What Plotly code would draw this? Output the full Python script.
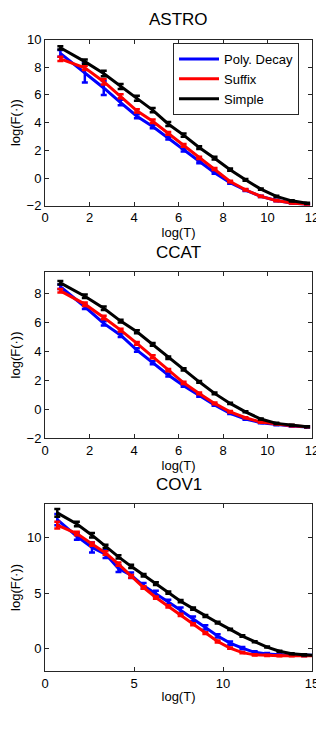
import plotly.graph_objects as go

# log(T) positions of the samples
x_ab = [0.69, 1.79, 2.64, 3.40, 4.13, 4.84, 5.54, 6.23, 6.93, 7.62, 8.32, 9.01, 9.70, 10.40, 11.09, 11.78]
x_cov = [0.69, 1.79, 2.64, 3.40, 4.13, 4.84, 5.54, 6.23, 6.93, 7.62, 8.32, 9.01, 9.70, 10.40, 11.09,
         11.78, 12.48, 13.17, 13.86, 14.56, 15.25]

# ASTRO
astro_poly = [9.0, 7.6, 6.5, 5.45, 4.46, 3.72, 2.88, 2.02, 1.17, 0.38, -0.33, -0.88, -1.33, -1.62, -1.8, -1.9]
astro_suffix = [8.6, 7.95, 6.95, 5.9, 4.85, 4.1, 3.22, 2.35, 1.45, 0.65, -0.25, -0.85, -1.33, -1.63, -1.8, -1.9]
astro_simple = [9.4, 8.4, 7.55, 6.6, 5.75, 4.9, 3.9, 3.1, 2.2, 1.43, 0.6, -0.13, -0.8, -1.33, -1.65, -1.82]
astro_poly_err = [0.25, 0.7, 0.5, 0.2, 0.15, 0.12, 0.1, 0.1, 0.1, 0.08, 0.08, 0.06, 0.05, 0.05, 0.04, 0.04]
astro_suffix_err = [0.15, 0.15, 0.2, 0.15, 0.12, 0.12, 0.1, 0.1, 0.08, 0.08, 0.06, 0.05, 0.05, 0.04, 0.04, 0.04]
astro_simple_err = [0.12, 0.15, 0.2, 0.18, 0.18, 0.15, 0.15, 0.12, 0.1, 0.1, 0.08, 0.06, 0.05, 0.04, 0.04, 0.04]

# CCAT
ccat_poly = [8.46, 7.08, 5.93, 5.12, 4.09, 3.21, 2.37, 1.63, 0.94, 0.3, -0.28, -0.67, -0.92, -1.06, -1.15, -1.22]
ccat_suffix = [8.18, 7.26, 6.34, 5.47, 4.55, 3.63, 2.71, 1.83, 1.1, 0.41, -0.17, -0.58, -0.88, -1.01, -1.13, -1.2]
ccat_simple = [8.73, 7.81, 6.97, 6.09, 5.35, 4.48, 3.56, 2.76, 1.9, 1.1, 0.41, -0.17, -0.67, -0.97, -1.1, -1.2]
ccat_poly_err = [0.15, 0.15, 0.15, 0.12, 0.12, 0.1, 0.1, 0.08, 0.08, 0.06, 0.05, 0.05, 0.04, 0.04, 0.04, 0.04]
ccat_suffix_err = [0.12, 0.12, 0.12, 0.1, 0.1, 0.1, 0.08, 0.08, 0.06, 0.06, 0.05, 0.04, 0.04, 0.04, 0.04, 0.04]
ccat_simple_err = [0.12, 0.12, 0.12, 0.1, 0.1, 0.1, 0.08, 0.08, 0.06, 0.06, 0.05, 0.04, 0.04, 0.04, 0.04, 0.04]

# COV1
cov_poly = [11.6, 10.1, 9.1, 8.5, 7.2, 6.6, 5.65, 4.95, 4.2, 3.45, 2.7, 1.92, 1.15, 0.5, 0.05, -0.32,
            -0.47, -0.55, -0.58, -0.6, -0.6]
cov_suffix = [11.1, 10.35, 9.4, 8.6, 7.6, 6.5, 5.5, 4.6, 3.8, 3.05, 2.2, 1.4, 0.65, 0.05, -0.35, -0.55,
              -0.6, -0.62, -0.62, -0.62, -0.62]
cov_simple = [12.2, 11.2, 10.2, 9.2, 8.25, 7.4, 6.6, 5.85, 5.03, 4.27, 3.6, 2.94, 2.34, 1.74, 1.14, 0.63,
              0.15, -0.22, -0.45, -0.55, -0.6]
cov_poly_err = [0.5, 0.3, 0.45, 0.35, 0.3, 0.25, 0.25, 0.25, 0.2, 0.25, 0.2, 0.2, 0.15, 0.15, 0.1, 0.1,
                0.08, 0.06, 0.05, 0.05, 0.05]
cov_suffix_err = [0.3, 0.15, 0.15, 0.15, 0.15, 0.12, 0.12, 0.1, 0.1, 0.1, 0.08, 0.08, 0.08, 0.06, 0.06, 0.05,
                  0.05, 0.05, 0.05, 0.05, 0.05]
cov_simple_err = [0.35, 0.2, 0.2, 0.15, 0.15, 0.15, 0.12, 0.12, 0.1, 0.1, 0.1, 0.08, 0.08, 0.06, 0.06, 0.05,
                  0.05, 0.05, 0.05, 0.05, 0.05]

names = ["Poly. Decay", "Suffix", "Simple"]
colors = ["#0000ff", "#ff0000", "#000000"]
panels = [
    ("ASTRO", x_ab, [astro_poly, astro_suffix, astro_simple], [astro_poly_err, astro_suffix_err, astro_simple_err]),
    ("CCAT", x_ab, [ccat_poly, ccat_suffix, ccat_simple], [ccat_poly_err, ccat_suffix_err, ccat_simple_err]),
    ("COV1", x_cov, [cov_poly, cov_suffix, cov_simple], [cov_poly_err, cov_suffix_err, cov_simple_err]),
]

# the page body has an 8px margin, so the figure is shrunk and shifted to land on the same pixels
OFF = 8
W, H = 324 - OFF, 738 - OFF


def px(x):
    return (x - OFF) / W


def py(y):
    return 1 - (y - OFF) / H


# pixel boxes of the three axes (top, bottom) in window coordinates
boxes = [(39.5, 205.7), (271.7, 438.3), (504, 671)]
x_left, x_right = 45, 312
yranges = [[-2, 10], [-2, 9.5], [-2, 13]]
ytickvals = [[-2, 0, 2, 4, 6, 8, 10], [-2, 0, 2, 4, 6, 8], [0, 5, 10]]
xranges = [[0, 12], [0, 12], [0, 15]]
xtickvals = [[0, 2, 4, 6, 8, 10, 12], [0, 2, 4, 6, 8, 10, 12], [0, 5, 10, 15]]

fig = go.Figure()
font = "Liberation Sans, Arial, sans-serif"

for i, (title, xs, series, errs) in enumerate(panels):
    sfx = "" if i == 0 else str(i + 1)
    for j in range(3):
        fig.add_trace(go.Scatter(
            x=xs, y=series[j], mode="lines", name=names[j],
            line=dict(color=colors[j], width=3),
            error_y=dict(type="data", array=errs[j], visible=True, color=colors[j], thickness=2.5, width=3),
            showlegend=(i == 0), xaxis="x" + sfx, yaxis="y" + sfx,
        ))
    top, bot = boxes[i]
    axcommon = dict(showline=True, linecolor="#262626", linewidth=1, mirror="ticks", ticks="inside",
                    ticklen=4, tickcolor="#262626", showgrid=False, zeroline=False, automargin=False,
                    tickfont=dict(family=font, size=13, color="black"))
    fig.layout["xaxis" + sfx] = dict(
        domain=[px(x_left), px(x_right)], range=xranges[i], tickvals=xtickvals[i],
        anchor="y" + sfx, title=dict(text="log(T)", font=dict(family=font, size=13, color="black"), standoff=2),
        **axcommon)
    fig.layout["yaxis" + sfx] = dict(
        domain=[py(bot), py(top)], range=yranges[i], tickvals=ytickvals[i],
        anchor="x" + sfx, title=dict(text="log(F(·))", font=dict(family=font, size=13, color="black"), standoff=4),
        **axcommon)
    fig.add_annotation(text=title, x=px((x_left + x_right) / 2), y=py(top - 8), xref="paper", yref="paper",
                       xanchor="center", yanchor="bottom", showarrow=False,
                       font=dict(family=font, size=17, color="black"))

fig.update_layout(
    width=W, height=H, margin=dict(l=0, r=0, t=0, b=0, autoexpand=False),
    paper_bgcolor="white", plot_bgcolor="white", showlegend=True,
    legend=dict(x=px(173), y=py(43), xanchor="left", yanchor="top", bgcolor="white",
                bordercolor="#262626", borderwidth=1, font=dict(family=font, size=13, color="black"),
                tracegroupgap=0, itemwidth=40),
)

fig.write_html("out.html")
